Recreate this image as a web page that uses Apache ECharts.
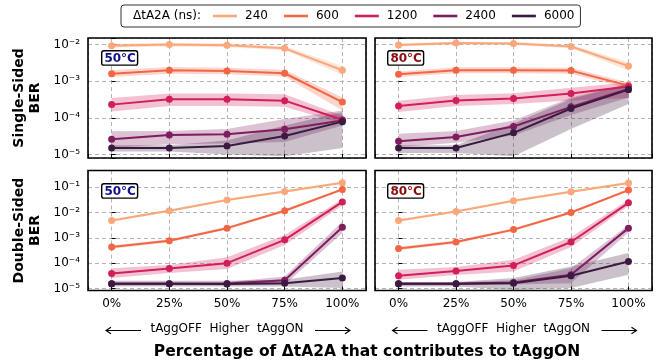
<!DOCTYPE html>
<html>
<head>
<meta charset="utf-8">
<script src="https://cdn.jsdelivr.net/npm/echarts@6/dist/echarts.min.js"></script>
<style>
  html, body { margin: 0; background: #fff; }
  #chart { width: 667px; height: 364px; }
</style>
</head>
<body>
<div id="chart"></div>
<script>
// x categories and legend entries
const categories = ['0%', '25%', '50%', '75%', '100%'];
const delays = ['240', '600', '1200', '2400', '6000'];
const colors = ['#f9a77b', '#f26645', '#d11f58', '#7f1d5e', '#3a1a40'];

// Single-sided BER, 50°C (rows follow delays)
const ss50Mean = [
  [9.3e-3, 1.0e-2, 9.6e-3, 7.9e-3, 2.0e-3],
  [1.6e-3, 2.0e-3, 1.9e-3, 1.65e-3, 2.7e-4],
  [2.3e-4, 3.2e-4, 3.2e-4, 2.95e-4, 8.9e-5],
  [2.6e-5, 3.4e-5, 3.6e-5, 4.9e-5, 8.5e-5],
  [1.5e-5, 1.5e-5, 1.7e-5, 3.2e-5, 7.9e-5]
];
const ss50Low = [
  [8.3e-3, 8.9e-3, 8.5e-3, 7.0e-3, 1.5e-3],
  [1.3e-3, 1.6e-3, 1.55e-3, 1.35e-3, 1.6e-4],
  [1.5e-4, 2.1e-4, 2.1e-4, 2.0e-4, 7.0e-5],
  [1.5e-5, 1.9e-5, 2.0e-5, 2.2e-5, 6.2e-5],
  [1.2e-5, 1.2e-5, 1.0e-5, 9e-6, 1.5e-5]
];
const ss50High = [
  [1.05e-2, 1.12e-2, 1.08e-2, 9.0e-3, 2.6e-3],
  [2.0e-3, 2.45e-3, 2.35e-3, 2.05e-3, 3.6e-4],
  [3.5e-4, 4.6e-4, 4.6e-4, 4.4e-4, 1.15e-4],
  [4.3e-5, 4.4e-5, 5.0e-5, 9.3e-5, 1.6e-4],
  [1.8e-5, 1.8e-5, 2.4e-5, 6.2e-5, 1.45e-4]
];

// Single-sided BER, 80°C
const ss80Mean = [
  [9.8e-3, 1.1e-2, 1.07e-2, 8.9e-3, 2.6e-3],
  [1.55e-3, 2.0e-3, 2.0e-3, 1.95e-3, 7.6e-4],
  [2.1e-4, 3.0e-4, 3.4e-4, 4.6e-4, 7.2e-4],
  [2.3e-5, 3.0e-5, 5.8e-5, 2.0e-4, 6.2e-4],
  [1.5e-5, 1.5e-5, 3.9e-5, 1.8e-4, 5.9e-4]
];
const ss80Low = [
  [8.9e-3, 1.0e-2, 9.7e-3, 8.0e-3, 1.95e-3],
  [1.3e-3, 1.65e-3, 1.65e-3, 1.6e-3, 6.2e-4],
  [1.45e-4, 2.1e-4, 2.4e-4, 3.0e-4, 3.5e-4],
  [1.6e-5, 2.1e-5, 3.3e-5, 1.2e-4, 3.6e-4],
  [1.1e-5, 1.1e-5, 9e-6, 5e-5, 2.4e-4]
];
const ss80High = [
  [1.08e-2, 1.2e-2, 1.17e-2, 9.9e-3, 3.3e-3],
  [1.85e-3, 2.4e-3, 2.4e-3, 2.35e-3, 9.3e-4],
  [2.95e-4, 4.2e-4, 4.7e-4, 6.6e-4, 9.3e-4],
  [3.7e-5, 4.4e-5, 8.5e-5, 3.6e-4, 8.5e-4],
  [1.8e-5, 1.8e-5, 7.0e-5, 3.3e-4, 8.5e-4]
];

// Double-sided BER, 50°C
const ds50Mean = [
  [4.8e-3, 1.16e-2, 3.1e-2, 6.7e-2, 1.5e-1],
  [4.3e-4, 7.6e-4, 2.4e-3, 1.16e-2, 8.1e-2],
  [3.9e-5, 6.2e-5, 1.0e-4, 8.3e-4, 2.6e-2],
  [1.55e-5, 1.55e-5, 1.58e-5, 2.1e-5, 2.6e-3],
  [1.55e-5, 1.55e-5, 1.5e-5, 1.6e-5, 2.6e-5]
];
const ds50Low = [
  [4.3e-3, 1.04e-2, 2.8e-2, 6.0e-2, 1.35e-1],
  [3.7e-4, 6.6e-4, 2.1e-3, 1.02e-2, 7.2e-2],
  [2.6e-5, 4.1e-5, 5.9e-5, 5.2e-4, 1.9e-2],
  [1.35e-5, 1.35e-5, 1.35e-5, 1.4e-5, 1.55e-3],
  [1.2e-5, 1.2e-5, 1.2e-5, 1.2e-5, 1.05e-5]
];
const ds50High = [
  [5.4e-3, 1.3e-2, 3.45e-2, 7.5e-2, 1.67e-1],
  [5.0e-4, 8.8e-4, 2.75e-3, 1.32e-2, 9.1e-2],
  [6.3e-5, 8.5e-5, 1.7e-4, 1.3e-3, 3.4e-2],
  [1.75e-5, 1.75e-5, 1.8e-5, 3.0e-5, 4.4e-3],
  [2.0e-5, 2.0e-5, 2.0e-5, 2.2e-5, 4.7e-5]
];

// Double-sided BER, 80°C
const ds80Mean = [
  [4.8e-3, 1.1e-2, 2.9e-2, 6.5e-2, 1.44e-1],
  [3.8e-4, 6.8e-4, 2.1e-3, 1.0e-2, 7.6e-2],
  [3.2e-5, 4.9e-5, 8.1e-5, 6.8e-4, 2.4e-2],
  [1.55e-5, 1.55e-5, 1.74e-5, 3.5e-5, 2.4e-3],
  [1.55e-5, 1.55e-5, 1.6e-5, 3.2e-5, 1.15e-4]
];
const ds80Low = [
  [4.3e-3, 9.9e-3, 2.6e-2, 5.8e-2, 1.3e-1],
  [3.3e-4, 5.9e-4, 1.85e-3, 8.9e-3, 6.8e-2],
  [2.2e-5, 3.4e-5, 4.7e-5, 4.3e-4, 1.8e-2],
  [1.35e-5, 1.35e-5, 1.45e-5, 1.6e-5, 1.6e-3],
  [1.2e-5, 1.2e-5, 9e-6, 1.05e-5, 3.5e-5]
];
const ds80High = [
  [5.4e-3, 1.22e-2, 3.2e-2, 7.2e-2, 1.6e-1],
  [4.4e-4, 7.8e-4, 2.4e-3, 1.12e-2, 8.5e-2],
  [5.5e-5, 7.0e-5, 1.35e-4, 1.07e-3, 3.2e-2],
  [1.75e-5, 1.75e-5, 2.1e-5, 6.3e-5, 3.2e-3],
  [1.8e-5, 1.8e-5, 2.6e-5, 7.4e-5, 2.5e-4]
];

const FONT = 'DejaVu Sans';
const SUP = { '-': '\u207b', '0': '\u2070', '1': '\u00b9', '2': '\u00b2', '3': '\u00b3',
  '4': '\u2074', '5': '\u2075', '6': '\u2076', '7': '\u2077', '8': '\u2078', '9': '\u2079' };

function powLabel(v) {
  const e = Math.log10(v);
  if (Math.abs(e - Math.round(e)) > 1e-6) return '';
  return '10' + String(Math.round(e)).split('').map(c => SUP[c]).join('');
}

// panel layout: [left, top, width, height]
const panels = [
  { rect: [88, 38, 278, 120], mean: ss50Mean, low: ss50Low, high: ss50High, yRange: [-5.095, -1.82], left: true, bottom: false },
  { rect: [375, 38, 277, 120], mean: ss80Mean, low: ss80Low, high: ss80High, yRange: [-5.095, -1.82], left: false, bottom: false },
  { rect: [88, 170.5, 278, 120], mean: ds50Mean, low: ds50Low, high: ds50High, yRange: [-5.08, -0.345], left: true, bottom: true },
  { rect: [375, 170.5, 277, 120], mean: ds80Mean, low: ds80Low, high: ds80High, yRange: [-5.08, -0.345], left: false, bottom: true }
];
const yTitles = ['Single-Sided\nBER', '', 'Double-Sided\nBER', ''];

const gridLine = { show: true, lineStyle: { color: '#b5b5b5', type: [4, 3], width: 1 } };

const grids = [], xAxes = [], yAxes = [], series = [];

panels.forEach((p, g) => {
  grids.push({
    left: p.rect[0], top: p.rect[1], width: p.rect[2], height: p.rect[3],
    show: true, borderColor: '#000', borderWidth: 1.6, backgroundColor: 'transparent', z: 5
  });
  xAxes.push({
    type: 'value', gridIndex: g, min: -0.41, max: 4.41, minInterval: 1, maxInterval: 1,
    axisLine: { show: false },
    axisTick: { show: true, inside: true, length: 4, lineStyle: { color: '#000' } },
    splitLine: gridLine,
    axisLabel: {
      show: p.bottom, margin: 7, color: '#000', fontFamily: FONT, fontSize: 12,
      formatter: v => Number.isInteger(v) && v >= 0 && v < categories.length ? categories[v] : ''
    },
    name: p.bottom ? 'tAggOFF  Higher  tAggON' : '',
    nameLocation: 'middle', nameGap: 32,
    nameTextStyle: { color: '#000', fontFamily: FONT, fontSize: 12 }
  });
  yAxes.push({
    type: 'log', logBase: 10, gridIndex: g,
    min: Math.pow(10, p.yRange[0]), max: Math.pow(10, p.yRange[1]),
    axisLine: { show: false },
    axisTick: { show: true, inside: true, length: 4, lineStyle: { color: '#000' } },
    splitLine: gridLine,
    minorTick: { show: false },
    axisLabel: { show: p.left, margin: 8, color: '#000', fontFamily: FONT, fontSize: 12, formatter: powLabel },
    name: yTitles[g], nameLocation: 'middle', nameRotate: 90, nameGap: 45,
    nameTextStyle: { color: '#000', fontFamily: FONT, fontSize: 14, fontWeight: 'bold', lineHeight: 16 }
  });

  delays.forEach((d, k) => {
    const lo = p.low[k], hi = p.high[k];
    series.push({
      type: 'custom', name: 'band' + d, xAxisIndex: g, yAxisIndex: g, z: 2, clip: true, silent: true,
      data: lo.map((v, i) => [i, v, hi[i]]),
      encode: { x: 0, y: [1, 2] },
      renderItem: (params, api) => {
        if (params.dataIndex !== 0) return null;
        const top = hi.map((v, i) => api.coord([i, v]));
        const bot = lo.map((v, i) => api.coord([i, v])).reverse();
        return {
          type: 'polygon',
          shape: { points: top.concat(bot) },
          style: { fill: colors[k], opacity: 0.27 }
        };
      }
    });
  });
  delays.forEach((d, k) => {
    series.push({
      type: 'line', name: d, xAxisIndex: g, yAxisIndex: g, z: 3 + k * 0.01,
      data: p.mean[k].map((v, i) => [i, v]),
      color: colors[k],
      symbol: 'circle', symbolSize: 7, showSymbol: true,
      lineStyle: { width: 2, color: colors[k] },
      itemStyle: { color: colors[k] },
      animation: false
    });
  });
});

function tempLabel(x, y, text, color) {
  return {
    type: 'text', left: x, top: y, z: 10,
    style: {
      text: text, fill: color, font: 'bold 12px "DejaVu Sans"',
      backgroundColor: '#fff', borderColor: '#000', borderWidth: 1.4, borderRadius: 1.5,
      padding: [1, 1, 0, 2]
    }
  };
}

// thin long arrow under a bottom panel; dir -1 points left, +1 points right
function arrow(x0, x1, y, dir) {
  const tip = dir < 0 ? x0 : x1;
  return {
    type: 'group', z: 10, children: [
      { type: 'line', shape: { x1: x0, y1: y, x2: x1, y2: y }, style: { stroke: '#000', lineWidth: 1.1 } },
      { type: 'polyline', shape: { points: [[tip - dir * 5, y - 3.2], [tip, y], [tip - dir * 5, y + 3.2]] },
        style: { stroke: '#000', lineWidth: 1.1, fill: null } }
    ]
  };
}
const arrowY = 330.5;
const panelCenters = [227, 513.5];

const chart = echarts.init(document.getElementById('chart'), null, { renderer: 'canvas' });
chart.setOption({
  animation: false,
  backgroundColor: '#fff',
  textStyle: { fontFamily: FONT },
  legend: {
    data: delays, left: 121, top: 5, orient: 'horizontal',
    icon: 'rect', itemWidth: 24, itemHeight: 2.6, itemGap: 16,
    padding: [5, 6, 5, 92],
    borderColor: '#333', borderWidth: 1, borderRadius: 3,
    textStyle: { color: '#000', fontSize: 12, fontFamily: FONT, padding: [0, 0, 0, 3] },
    selectedMode: false
  },
  grid: grids,
  xAxis: xAxes,
  yAxis: yAxes,
  series: series,
  graphic: [
    { type: 'text', left: 133, top: 10, style: { text: '\u0394tA2A (ns):', fill: '#000', font: '12px "DejaVu Sans"' } },
    tempLabel(101, 50, '50\u00b0C', '#10108a'),
    tempLabel(387, 50, '80\u00b0C', '#8b0a0a'),
    tempLabel(101, 183, '50\u00b0C', '#10108a'),
    tempLabel(387, 183, '80\u00b0C', '#8b0a0a'),
    ...panelCenters.flatMap(c => [arrow(c - 121, c - 86, arrowY, -1), arrow(c + 88, c + 123, arrowY, 1)]),
    { type: 'text', x: 367, y: 352, style: { text: 'Percentage of \u0394tA2A that contributes to tAggON', fill: '#000', font: 'bold 15.5px "DejaVu Sans"', align: 'center', verticalAlign: 'middle' } }
  ]
});
</script>
</body>
</html>
